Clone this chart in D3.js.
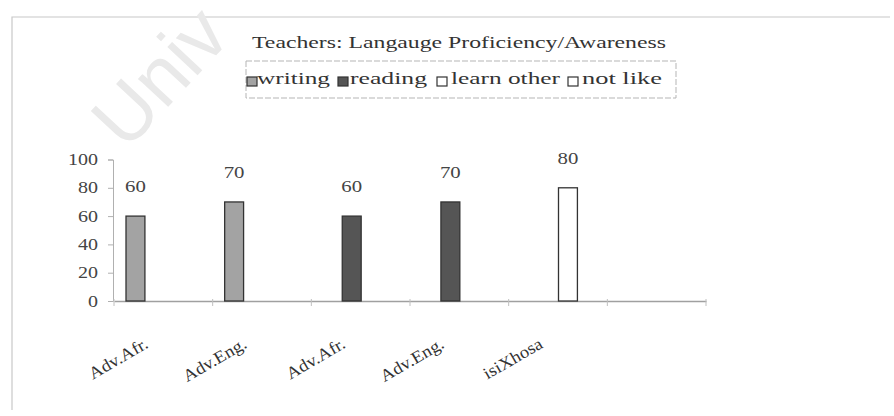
<!DOCTYPE html>
<html>
<head>
<meta charset="utf-8">
<script src="https://cdn.jsdelivr.net/npm/d3@7"></script>
<style>
  body { margin: 0; background: #fff; }
  text { font-family: "Liberation Serif", "DejaVu Serif", serif; }
</style>
</head>
<body>
<script>
'use strict';
// chart data
const categories = ["Adv.Afr.", "Adv.Eng.", "Adv.Afr.", "Adv.Eng.", "isiXhosa", ""];
const seriesNames = ["writing", "reading", "learn other", "not like"];
const writing    = [60, 70, 0, 0, 0, 0];
const reading    = [0, 0, 60, 70, 0, 0];
const learnOther = [0, 0, 0, 0, 80, 0];
const notLike    = [0, 0, 0, 0, 0, 0];
const yTicks = [0, 20, 40, 60, 80, 100];

(function() {
    const W = 894, H = 416;
    const colors = ["#a3a3a3", "#555555", "#ffffff", "#ffffff"];
    const series = [writing, reading, learnOther, notLike];

    let svg = d3.select("body").append("svg")
        .attr("width", W)
        .attr("height", H);

    // the scan is a bit wider than normal type, so widen texts
    function stretch(sel, k) {
        sel.each(function() {
            let w = this.getComputedTextLength();
            if (w > 0) {
                d3.select(this)
                    .attr("textLength", w * k)
                    .attr("lengthAdjust", "spacingAndGlyphs");
            }
        });
    }

    // faint scanned frame
    svg.append("path")
        .attr("d", "M12,410 L12,17 L890,17")
        .attr("fill", "none")
        .attr("stroke", "#c8c8c8")
        .attr("stroke-width", 1.2);

    // watermark
    svg.append("text")
        .attr("transform", "translate(126,152) rotate(-47)")
        .style("font-family", "'Liberation Sans', sans-serif")
        .attr("font-size", 78)
        .attr("fill", "#e9e9e9")
        .text("Univ");

    // title
    svg.append("text")
        .attr("x", 252).attr("y", 48)
        .attr("font-size", 17)
        .attr("fill", "#333")
        .attr("textLength", 414)
        .attr("lengthAdjust", "spacingAndGlyphs")
        .text("Teachers: Langauge Proficiency/Awareness");

    // legend box
    svg.append("rect")
        .attr("x", 246).attr("y", 61)
        .attr("width", 430).attr("height", 37)
        .attr("fill", "none")
        .attr("stroke", "#b5b5b5")
        .attr("stroke-dasharray", "6,2");

    const legendPos = [
        {sq: 247, tx: 257, tw: 73},
        {sq: 338, tx: 350, tw: 77},
        {sq: 437, tx: 451, tw: 109},
        {sq: 568, tx: 582, tw: 80}
    ];
    let legend = svg.append("g");
    seriesNames.forEach(function(name, i) {
        legend.append("rect")
            .attr("x", legendPos[i].sq).attr("y", 77)
            .attr("width", 10).attr("height", 9)
            .attr("fill", colors[i])
            .attr("stroke", "#333")
            .attr("stroke-width", 1.2);
        legend.append("text")
            .attr("x", legendPos[i].tx).attr("y", 84)
            .attr("font-size", 16)
            .attr("fill", "#333")
            .attr("textLength", legendPos[i].tw)
            .attr("lengthAdjust", "spacingAndGlyphs")
            .text(name);
    });

    // scales
    const x = d3.scaleBand()
        .domain(d3.range(categories.length))
        .range([114, 706])
        .paddingInner(0).paddingOuter(0);

    const xSub = d3.scaleBand()
        .domain(d3.range(seriesNames.length))
        .range([12, x.bandwidth() - 11])
        .padding(0);

    const y = d3.scaleLinear()
        .domain([0, 100])
        .range([301, 159.5]);

    // y axis
    let yAxis = svg.append("g")
        .attr("transform", "translate(113,0)")
        .call(d3.axisLeft(y).tickValues(yTicks).tickSize(5).tickPadding(10));
    yAxis.select(".domain").attr("stroke", "#b0b0b0");
    yAxis.selectAll(".tick line").attr("stroke", "#b0b0b0");
    yAxis.selectAll(".tick text")
        .attr("font-size", 16)
        .attr("fill", "#444")
        .style("font-family", "'Liberation Serif', serif");
    stretch(yAxis.selectAll(".tick text"), 1.25);

    // x axis
    let xAxis = svg.append("g")
        .attr("transform", "translate(0,301)")
        .call(d3.axisBottom(x).tickSize(0).tickFormat(""));
    xAxis.select(".domain").attr("stroke", "#a0a0a0").attr("stroke-width", 1.3);
    d3.range(categories.length + 1).forEach(function(i) {
        let px = i < categories.length ? x(i) : x(categories.length - 1) + x.bandwidth();
        xAxis.append("line")
            .attr("x1", px).attr("x2", px)
            .attr("y1", -2).attr("y2", 5)
            .attr("stroke", "#c0c0c0");
    });

    // rotated category labels
    let catText = xAxis.selectAll(".cat")
        .data(categories)
        .enter()
        .append("text")
        .attr("class", "cat")
        .attr("text-anchor", "end")
        .attr("font-size", 17)
        .attr("fill", "#333")
        .attr("transform", function(d, i) {
            return "translate(" + (x(i) + x.bandwidth() / 2 - 14) + ",46) rotate(-30)";
        })
        .text(function(d) { return d; });
    stretch(catText, 1.1);

    // bars
    let bars = [];
    series.forEach(function(vals, s) {
        vals.forEach(function(v, i) {
            if (v > 0) bars.push({cat: i, s: s, v: v});
        });
    });

    svg.selectAll("rect.bar")
        .data(bars)
        .enter()
        .append("rect")
        .attr("class", "bar")
        .attr("x", function(d) { return x(d.cat) + xSub(d.s); })
        .attr("y", function(d) { return y(d.v); })
        .attr("width", xSub.bandwidth())
        .attr("height", function(d) { return y(0) - y(d.v); })
        .attr("fill", function(d) { return colors[d.s]; })
        .attr("stroke", "#333")
        .attr("stroke-width", 1.3);

    let valText = svg.selectAll("text.val")
        .data(bars)
        .enter()
        .append("text")
        .attr("class", "val")
        .attr("text-anchor", "middle")
        .attr("x", function(d) { return x(d.cat) + xSub(d.s) + xSub.bandwidth() / 2; })
        .attr("y", function(d) { return y(d.v) - 24; })
        .attr("font-size", 16)
        .attr("fill", "#444")
        .text(function(d) { return d.v; });
    stretch(valText, 1.3);
})();
</script>
</body>
</html>
